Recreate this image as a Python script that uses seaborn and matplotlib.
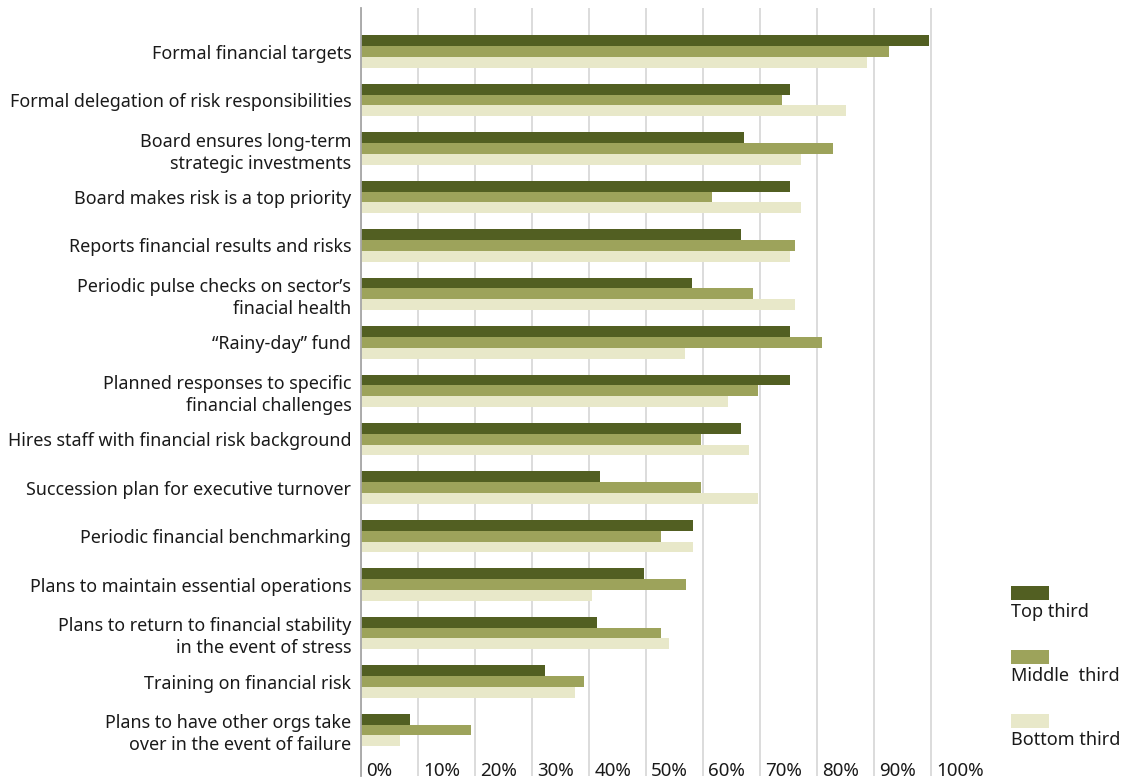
import pandas as pd
import matplotlib.pyplot as plt
import seaborn as sns
from matplotlib.patches import Rectangle
from matplotlib.transforms import blended_transform_factory

# categories top to bottom
categories = [
    "Formal financial targets",
    "Formal delegation of risk responsibilities",
    "Board ensures long-term\nstrategic investments",
    "Board makes risk is a top priority",
    "Reports financial results and risks",
    "Periodic pulse checks on sector\u2019s\nfinacial health",
    "\u201cRainy-day\u201d fund",
    "Planned responses to specific\nfinancial challenges",
    "Hires staff with financial risk background",
    "Succession plan for executive turnover",
    "Periodic financial benchmarking",
    "Plans to maintain essential operations",
    "Plans to return to financial stability\nin the event of stress",
    "Training on financial risk",
    "Plans to have other orgs take\nover in the event of failure",
]
series = ["Top third", "Middle  third", "Bottom third"]
top_third = [99.6, 75.3, 67.2, 75.3, 66.7, 58.1, 75.3, 75.3, 66.7, 41.9, 58.2, 49.6, 41.4, 32.3, 8.6]
middle_third = [92.6, 73.9, 82.8, 61.6, 76.1, 68.8, 80.9, 69.6, 59.6, 59.6, 52.6, 57.0, 52.6, 39.1, 19.3]
bottom_third = [88.8, 85.1, 77.2, 77.2, 75.3, 76.1, 56.8, 64.4, 68.1, 69.6, 58.2, 40.5, 54.0, 37.5, 6.8]
x_ticks = [0, 10, 20, 30, 40, 50, 60, 70, 80, 90, 100]
colors = ["#525F22", "#9DA35B", "#E8E8C9"]

df = pd.DataFrame({
    "category": categories * 3,
    "group": [s for s in series for _ in categories],
    "value": top_third + middle_third + bottom_third,
})

sns.set_style("white")
plt.rcParams["font.family"] = ["Noto Sans", "DejaVu Sans"]

fig = plt.figure(figsize=(11.25, 7.81), dpi=100)
ax = fig.add_axes([361 / 1125, 1 - 776 / 781, (936.7 - 361) / 1125, 768 / 781])

sns.barplot(data=df, x="value", y="category", hue="group", orient="h",
            order=categories, hue_order=series, palette=colors,
            width=0.67, saturation=1, legend=False, linewidth=0,
            edgecolor="none", ax=ax)

ax.set_xlim(0, 101)
ax.set_ylim(14.95, -0.9)
ax.set_xticks(x_ticks)
ax.set_xticklabels([])
ax.tick_params(axis="x", length=0)
ax.tick_params(axis="y", length=0, pad=7, labelsize=12.9, labelcolor="#1a1a1a")
for lab in ax.get_yticklabels():
    lab.set_linespacing(1.3)
ax.set_xlabel("")
ax.set_ylabel("")
ax.grid(axis="x", color="#D9D9D9", linewidth=1.3)
ax.set_axisbelow(True)
for side in ["top", "right", "bottom"]:
    ax.spines[side].set_visible(False)
ax.spines["left"].set_color("#A6A6A6")
ax.spines["left"].set_linewidth(1.3)

trans = blended_transform_factory(ax.transData, ax.transAxes)
for t in x_ticks:
    ax.text(t + 0.9, -0.005, f"{t}%", transform=trans, ha="left", va="bottom",
            fontsize=13.5, color="#1a1a1a")

# legend
for i, (name, c) in enumerate(zip(series, colors)):
    y0 = 586 + i * 64
    fig.patches.append(Rectangle((1011 / 1125, 1 - (y0 + 14) / 781), 38 / 1125, 14 / 781,
                                 transform=fig.transFigure, facecolor=c, edgecolor="none"))
    fig.text(1011 / 1125, 1 - (y0 + 26) / 781, name, ha="left", va="center",
             fontsize=13, color="#1a1a1a")

fig.savefig("out.png", dpi=100)
